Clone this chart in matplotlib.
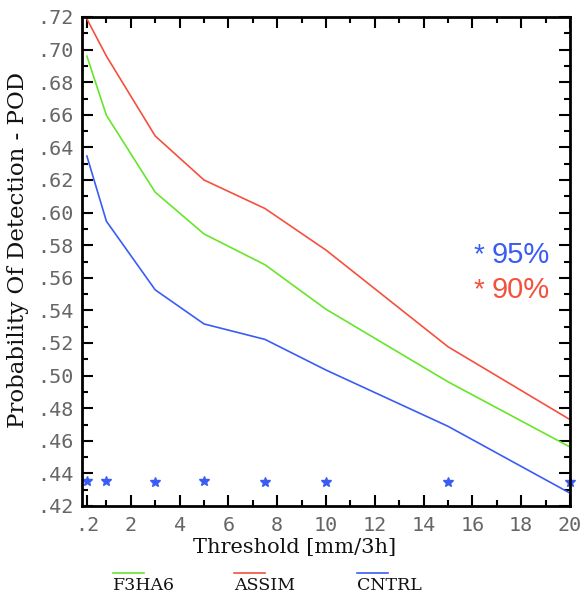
import matplotlib
matplotlib.use("Agg")
import matplotlib.pyplot as plt
from matplotlib.ticker import MultipleLocator, FixedLocator

thresholds = [0.2, 1, 3, 5, 7.5, 10, 15, 20]
assim = [0.7188, 0.696, 0.647, 0.620, 0.6025, 0.577, 0.5177, 0.473]
f3ha6 = [0.696, 0.6597, 0.6125, 0.5869, 0.568, 0.5407, 0.4962, 0.4562]
cntrl = [0.6347, 0.5947, 0.5526, 0.5317, 0.5222, 0.5034, 0.4689, 0.4279]
sig95 = [0.4355, 0.4355, 0.435, 0.4355, 0.435, 0.435, 0.435, 0.435]

xtick_vals = [0.2, 2, 4, 6, 8, 10, 12, 14, 16, 18, 20]
xtick_labels = [".2", "2", "4", "6", "8", "10", "12", "14", "16", "18", "20"]
ytick_vals = [0.42, 0.44, 0.46, 0.48, 0.50, 0.52, 0.54, 0.56, 0.58, 0.60, 0.62, 0.64, 0.66, 0.68, 0.70, 0.72]
ytick_labels = [".42", ".44", ".46", ".48", ".50", ".52", ".54", ".56", ".58", ".60", ".62", ".64", ".66", ".68", ".70", ".72"]

RED = "#f5503c"
GREEN = "#66e62a"
BLUE = "#3a5cf5"

W, H = 586, 599
fig = plt.figure(figsize=(W / 100, H / 100), dpi=100)
ax = fig.add_axes([82 / W, 1 - 506 / H, 488 / W, 489 / H])

ax.plot(thresholds, assim, color=RED, lw=1.2)
ax.plot(thresholds, f3ha6, color=GREEN, lw=1.2)
ax.plot(thresholds, cntrl, color=BLUE, lw=1.2)
ax.plot(thresholds, sig95, linestyle="none", marker="*", color=BLUE, ms=7.5,
        clip_on=False)

ax.set_xlim(0, 20)
ax.set_ylim(0.42, 0.72)
ax.xaxis.set_major_locator(FixedLocator(xtick_vals))
ax.set_xticklabels(xtick_labels)
ax.xaxis.set_minor_locator(FixedLocator([1, 3, 5, 7, 9, 11, 13, 15, 17, 19]))
ax.yaxis.set_major_locator(FixedLocator(ytick_vals))
ax.set_yticklabels(ytick_labels)
ax.yaxis.set_minor_locator(MultipleLocator(0.01))

ax.tick_params(which="both", direction="in", top=True, right=True, width=1.5,
               colors="black", labelcolor="#666666", labelsize=14.5)
ax.tick_params(which="major", length=8)
ax.tick_params(which="minor", length=4)
ax.tick_params(axis="x", pad=7)
ax.tick_params(axis="y", pad=6)
for lab in ax.get_xticklabels() + ax.get_yticklabels():
    lab.set_fontfamily("DejaVu Sans Mono")
for sp in ax.spines.values():
    sp.set_linewidth(2)

fig.text(295 / W, 1 - 548 / H, "Threshold [mm/3h]", family="DejaVu Serif",
         fontsize=15, ha="center", va="center", color="#111111")
fig.text(18 / W, 1 - 250 / H, "Probability Of Detection - POD", family="DejaVu Serif",
         fontsize=16.5, ha="center", va="center", rotation=90, color="#111111")

fig.text(474 / W, 1 - 255 / H, "*", color=BLUE, fontsize=20, ha="left", va="center",
         family="Liberation Sans")
fig.text(492 / W, 1 - 255 / H, "95%", color=BLUE, fontsize=21, ha="left", va="center",
         family="Liberation Sans")
fig.text(474 / W, 1 - 290 / H, "*", color=RED, fontsize=20, ha="left", va="center",
         family="Liberation Sans")
fig.text(492 / W, 1 - 290 / H, "90%", color=RED, fontsize=21, ha="left", va="center",
         family="Liberation Sans")

legend_items = [("F3HA6", GREEN, 113), ("ASSIM", RED, 234), ("CNTRL", BLUE, 357)]
for name, col, x0 in legend_items:
    fig.add_artist(plt.Line2D([x0 / W, (x0 + 31) / W], [1 - 572.5 / H, 1 - 572.5 / H],
                              color=col, lw=1.2, transform=fig.transFigure))
    fig.text(x0 / W, 1 - 586 / H, name, family="DejaVu Serif", fontsize=12.5,
             ha="left", va="center", color="#111111")

fig.savefig("out.png", dpi=100)
